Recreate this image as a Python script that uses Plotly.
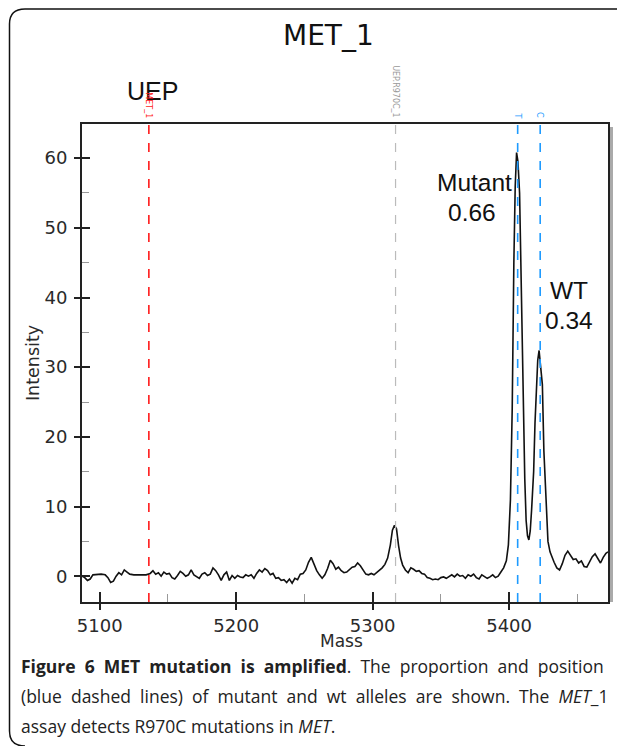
import plotly.graph_objects as go

# ---------------- data ----------------
mass = [5087, 5089, 5091, 5093, 5095, 5098, 5101, 5104, 5106, 5108, 5110, 5112, 5114, 5116, 5118, 5120,
        5122, 5125, 5128, 5131, 5134, 5137, 5139, 5141, 5143, 5145, 5147, 5149, 5151, 5153, 5155, 5157,
        5159, 5161, 5163, 5165, 5167, 5169, 5171, 5173, 5175, 5177, 5179, 5181, 5183, 5185, 5187, 5189,
        5191, 5193, 5195, 5197, 5199, 5201, 5203, 5205, 5207, 5209, 5211, 5213, 5215, 5217, 5219, 5221,
        5223, 5225, 5227, 5229, 5231, 5233, 5235, 5237, 5239, 5241, 5243, 5245, 5247, 5249, 5251, 5253,
        5255, 5257, 5259, 5261, 5263, 5265, 5267, 5269, 5271, 5273, 5275, 5277, 5279, 5281, 5283, 5285,
        5287, 5289, 5291, 5293, 5295, 5297, 5299, 5301, 5303, 5305, 5307, 5309, 5311, 5313, 5314.5, 5316,
        5317.5, 5319, 5320.5, 5322, 5324, 5326, 5328, 5330, 5332, 5334, 5336, 5338, 5340, 5342, 5344, 5346,
        5348, 5350, 5352, 5354, 5356, 5358, 5360, 5362, 5364, 5366, 5368, 5370, 5372, 5374, 5376, 5378,
        5380, 5382, 5384, 5386, 5388, 5390, 5392, 5394, 5396, 5398, 5399.5, 5401, 5402.3, 5403.5, 5404.5,
        5405.5, 5406.5, 5407.7, 5409, 5410.6, 5411.5, 5412.5, 5413.5, 5414.5, 5415.5, 5416.5, 5418, 5419,
        5420, 5421, 5422, 5423, 5424.4, 5425.5, 5427, 5428.5, 5430, 5431.5, 5433, 5435, 5437, 5439, 5441,
        5443, 5445, 5447, 5449, 5451, 5453, 5455, 5457, 5459, 5461, 5463, 5465, 5467, 5469, 5471, 5472.5]
intensity = [0.0, -0.2, -0.6, -0.4, 0.2, 0.3, 0.3, 0.2, -0.2, -0.9, -0.7, 0.0, 0.5, 0.2, 0.9, 0.6,
             0.3, 0.2, 0.2, 0.2, 0.2, 0.4, 0.8, 0.3, 0.5, 0.0, 0.6, 0.3, 0.4, -0.2, -0.4, 0.1,
             0.7, 0.4, 0.0, 0.2, 0.9, 0.2, 0.0, -0.3, 0.3, 0.5, 0.1, 0.3, 1.2, 0.8, 0.2, -0.6,
             0.2, 0.6, -0.6, 0.1, -0.3, 0.1, -0.1, -0.2, 0.2, 0.0, 0.2, -0.3, 0.4, 0.9, 0.6, 1.1,
             0.8, 0.2, 0.4, -0.3, -0.2, -0.6, -0.5, -0.9, -0.4, -1.0, -0.3, -0.5, 0.3, 0.4, 0.9, 2.0,
             2.7, 1.8, 0.8, 0.2, -0.3, 0.2, 1.1, 2.3, 1.8, 1.0, 1.3, 0.8, 0.5, 0.6, 0.9, 1.3,
             1.4, 1.9, 1.5, 0.9, 0.3, 0.2, 0.4, 0.2, 0.5, 0.8, 1.2, 1.7, 2.6, 4.5, 6.6, 7.3,
             6.8, 4.4, 2.6, 1.6, 0.9, 0.5, 1.2, 1.0, 0.7, 0.8, 0.4, 0.3, -0.2, -0.3, -0.5, -0.4,
             -0.5, -0.2, -0.1, -0.3, 0.0, 0.2, -0.1, 0.3, 0.0, 0.1, -0.3, 0.2, 0.0, 0.3, -0.2, -0.4,
             0.2, -0.1, -0.3, -0.1, 0.2, -0.2, 0.0, 0.6, 1.2, 2.2, 4.5, 11.0, 24.0, 45.0, 56.0,
             60.8, 59.5, 55.0, 39.0, 22.0, 14.0, 8.0, 5.8, 5.2, 6.5, 9.5, 15.0, 22.0,
             28.0, 31.0, 32.4, 30.0, 27.5, 18.0, 11.0, 5.0, 3.5, 2.6, 2.0, 1.2, 0.9, 1.8, 3.0,
             3.6, 3.0, 2.4, 2.5, 1.9, 2.2, 1.4, 1.3, 2.0, 2.8, 3.2, 2.5, 1.9, 2.7, 3.3, 3.5]

marker_mass = [5136.0, 5316.8, 5406.3, 5422.8]
marker_label = ["MET_1", "UEP.R970C_1", "T", "C"]
marker_color = ["#ff1a1a", "#bbbbbb", "#1e9bff", "#1e9bff"]

x_ticks = [5100, 5200, 5300, 5400]
y_ticks = [0, 10, 20, 30, 40, 50, 60]
x_range = [5087, 5472.5]
y_range = [-3.7, 64.9]

# ---------------- layout geometry ----------------
# page coords (screenshot) -> figure sits at an 8px body offset
OFF = 8
W, H = 625 - OFF, 746 - OFF
L, R, T, B = 82, 608, 124, 602  # page coords of plot area


def px(x):
    return (x - L) / (R - L)


def py(y):
    return (B - y) / (B - T)


fig = go.Figure()

fig.add_trace(go.Scatter(x=mass, y=intensity, mode="lines",
                         line=dict(color="#111111", width=1.6), hoverinfo="skip",
                         showlegend=False))

for m, c in zip(marker_mass, marker_color):
    fig.add_trace(go.Scatter(x=[m, m], y=y_range, mode="lines",
                             line=dict(color=c, width=1.6 if c != "#bbbbbb" else 1.2, dash="dash"),
                             hoverinfo="skip", showlegend=False))

# helper trace for overlay axes
fig.add_trace(go.Scatter(x=[x_range[0]], y=[y_range[0]], xaxis="x2", yaxis="y2",
                         mode="markers", marker=dict(opacity=0), hoverinfo="skip",
                         showlegend=False))

tickfont = dict(family="DejaVu Sans", size=18, color="#2a2a2a")

fig.update_layout(
    width=W, height=H,
    margin=dict(l=L - OFF, r=W - (R - OFF), t=T - OFF, b=H - (B - OFF)),
    paper_bgcolor="white", plot_bgcolor="white",
    xaxis=dict(range=x_range, tickvals=x_ticks, ticks="outside", ticklen=6, tickwidth=1.5,
               tickcolor="#222", showgrid=False, zeroline=False, showline=True, mirror=True,
               linecolor="#222", linewidth=2, tickfont=tickfont,
               minor=dict(ticks="inside", ticklen=8, tickcolor="#999", tickwidth=1, dtick=50,
                          tick0=5100, showgrid=False)),
    yaxis=dict(range=y_range, tickvals=y_ticks, ticks="outside", ticklen=6, tickwidth=1.5,
               tickcolor="#222", showgrid=False, zeroline=False, showline=True, mirror=True,
               linecolor="#222", linewidth=2, tickfont=tickfont, ticklabelstandoff=3,
               minor=dict(ticks="inside", ticklen=7, tickcolor="#999", tickwidth=1, dtick=5,
                          tick0=0, showgrid=False),
               title=dict(text="Intensity", font=dict(family="DejaVu Sans", size=17.5, color="#2a2a2a"),
                          standoff=0)),
    xaxis2=dict(range=x_range, overlaying="x", anchor="y", side="bottom", tickvals=x_ticks,
                ticks="inside", ticklen=10, tickwidth=1.5, tickcolor="#222",
                showticklabels=False, showgrid=False, zeroline=False, showline=False),
    yaxis2=dict(range=y_range, overlaying="y", anchor="x", side="left", tickvals=y_ticks,
                ticks="inside", ticklen=8, tickwidth=1.5, tickcolor="#222",
                showticklabels=False, showgrid=False, zeroline=False, showline=False),
)

shapes = []
# shadow on the right of the frame
shapes.append(dict(type="rect", xref="paper", yref="paper", x0=px(609), x1=px(613),
                   y0=py(602), y1=py(127), fillcolor="#aaaaaa", line=dict(width=0), layer="below"))
# rounded outer border
path = (f"M {px(640)},{py(9)} L {px(25)},{py(9)} Q {px(9.5)},{py(9)} {px(9.5)},{py(24)} "
        f"L {px(9.5)},{py(731)} Q {px(9.5)},{py(746)} {px(25)},{py(746)}")
shapes.append(dict(type="path", xref="paper", yref="paper", path=path,
                   line=dict(color="#111", width=1.5)))
fig.update_layout(shapes=shapes)

ann = []
ann.append(dict(text="MET_1", x=px(328), y=py(36), xref="paper", yref="paper", showarrow=False,
                font=dict(family="DejaVu Sans", size=28, color="#111"), xanchor="center", yanchor="middle"))
ann.append(dict(text="UEP", x=px(152), y=py(91), xref="paper", yref="paper", showarrow=False,
                font=dict(family="Liberation Sans", size=25, color="#111"), xanchor="center", yanchor="middle"))
ann.append(dict(text="Mass", x=px(341), y=py(641), xref="paper", yref="paper", showarrow=False,
                font=dict(family="DejaVu Sans", size=17, color="#2a2a2a"), xanchor="center", yanchor="middle"))
for t, xx, yy in [("Mutant", 474, 182), ("0.66", 472, 212), ("WT", 569, 290), ("0.34", 569, 320)]:
    ann.append(dict(text=t, x=px(xx), y=py(yy), xref="paper", yref="paper", showarrow=False,
                    font=dict(family="Liberation Sans", size=24.5, color="#111"),
                    xanchor="center", yanchor="middle"))
# rotated marker labels above plot
for m, lab, c in zip(marker_mass, marker_label, marker_color):
    ann.append(dict(text=lab, x=m, y=1.008, xref="x", yref="paper", showarrow=False,
                    textangle=90, yanchor="bottom", xanchor="center",
                    font=dict(family="DejaVu Sans", size=8, color=c if c != "#bbbbbb" else "#999")))

cap_font = dict(family="Open Sans", size=17.5, color="#222")
sp = "&nbsp; "
cap_lines = [
    sp.join(["<b>Figure", "6", "MET", "mutation", "is", "amplified</b>.", "The", "proportion",
             "and", "position"]),
    sp.join(["(blue", "dashed", "lines)", "of", "mutant", "and", "wt", "alleles", "are", "shown.",
             "The", "<i>MET</i>_1"]),
    "assay detects R970C mutations in <i>MET</i>.",
]
for i, line in enumerate(cap_lines):
    ann.append(dict(text=line, x=px(19), y=py(666 + 30 * i), xref="paper", yref="paper",
                    showarrow=False, font=cap_font, xanchor="left", yanchor="middle", align="left"))
fig.update_layout(annotations=ann)

fig.write_html("out.html")
